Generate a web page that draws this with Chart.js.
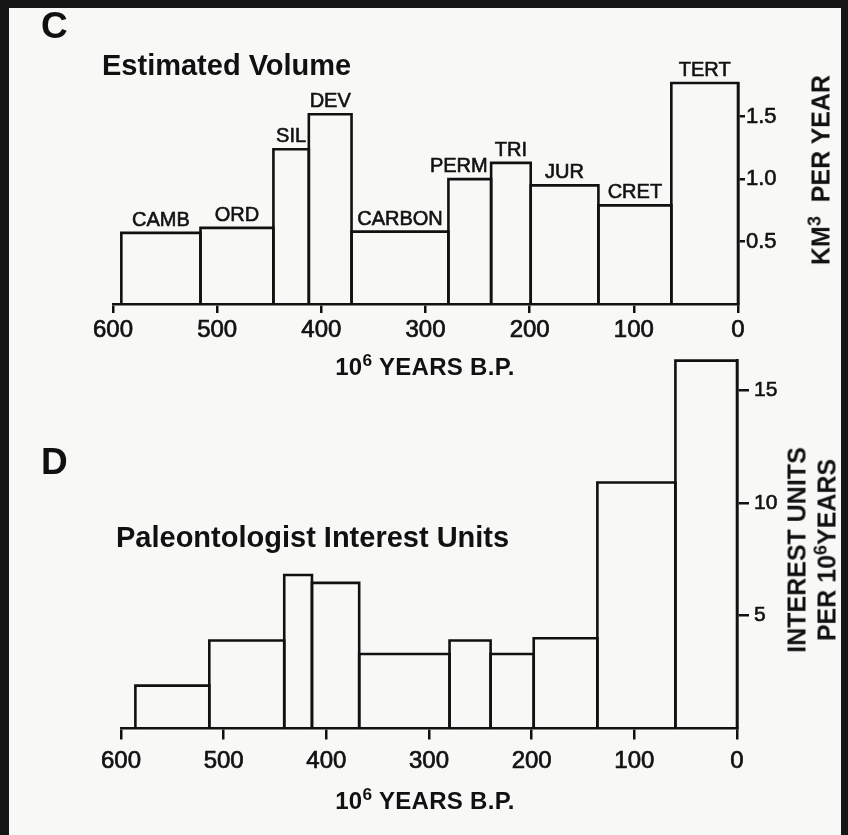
<!DOCTYPE html>
<html lang="en">
<head>
  <meta charset="UTF-8" />
  <title>Estimated Volume and Paleontologist Interest Units</title>
  <script src="https://cdn.jsdelivr.net/npm/chart.js"></script>
  <style>
    html, body { margin: 0; padding: 0; }
    body {
      width: 848px;
      height: 835px;
      position: relative;
      overflow: hidden;
      background: #f8f8f6;
      font-family: "Liberation Sans", Arial, sans-serif;
      color: #111;
    }
    .edge { position: absolute; background: #161616; }
    canvas { position: absolute; left: 0; }
    #chartC { top: 0; }
    #chartD { top: 330px; }
    .letter { position: absolute; font-weight: bold; font-size: 37px; line-height: 1; }
    .title { position: absolute; font-weight: bold; font-size: 29px; line-height: 1; white-space: nowrap; }
    .xtitle {
      position: absolute; font-weight: bold; font-size: 24px; line-height: 1;
      white-space: nowrap; transform: translateX(-50%); letter-spacing: 0.3px;
    }
    .ytitle {
      position: absolute; font-weight: bold; font-size: 25px; line-height: 30px;
      white-space: nowrap; text-align: center;
      transform: translate(-50%, -50%) rotate(-90deg);
    }
    sup { font-size: 0.72em; vertical-align: 0; position: relative; top: -0.5em; }
  </style>
</head>
<body>
  <canvas id="chartC" width="848" height="400"></canvas>
  <canvas id="chartD" width="848" height="505"></canvas>

  <div class="letter" style="left:41px; top:7px;">C</div>
  <div class="title" style="left:102px; top:51px;">Estimated Volume</div>
  <div class="xtitle" style="left:425px; top:355px;">10<sup>6</sup> YEARS B.P.</div>
  <div class="ytitle" style="left:822px; top:170px;">KM<sup>3</sup>&nbsp; PER YEAR</div>

  <div class="letter" style="left:41px; top:443px;">D</div>
  <div class="title" style="left:116px; top:523px;">Paleontologist Interest Units</div>
  <div class="xtitle" style="left:425px; top:789px;">10<sup>6</sup> YEARS B.P.</div>
  <div class="ytitle" style="left:813px; top:550px;">INTEREST UNITS<br>PER 10<sup>6</sup>YEARS</div>

  <div class="edge" style="left:0; top:0; width:848px; height:8px;"></div>
  <div class="edge" style="left:0; top:0; width:9px; height:835px;"></div>
  <div class="edge" style="left:841px; top:0; width:7px; height:835px;"></div>

  <script>
    const INK = '#111';
    const FONT = '"Liberation Sans", Arial, sans-serif';

    // geological periods, oldest first
    const periods = ['CAMB', 'ORD', 'SIL', 'DEV', 'CARBON', 'PERM', 'TRI', 'JUR', 'CRET', 'TERT'];

    // period boundaries in 10^6 years B.P. and the value for each period
    const volumeEdges = [592, 516, 446, 412, 371, 278, 237, 199, 134, 64, 0];
    const volumeRates = [0.57, 0.61, 1.24, 1.52, 0.58, 1.0, 1.13, 0.95, 0.79, 1.77];

    const interestEdges = [586, 514, 441, 414, 368, 280, 240, 198, 136, 60, 0];
    const interestUnits = [1.9, 3.9, 6.8, 6.45, 3.3, 3.9, 3.3, 4.0, 10.9, 16.3];

    const yearTicks = [600, 500, 400, 300, 200, 100, 0];
    const volumeTicks = [0.5, 1.0, 1.5];
    const interestTicks = [5, 10, 15];

    // each period is an open rectangle: up, across, down
    function outlineDatasets(edges, values) {
      return values.map((v, i) => ({
        label: periods[i],
        data: [
          { x: edges[i], y: 0 },
          { x: edges[i], y: v },
          { x: edges[i + 1], y: v },
          { x: edges[i + 1], y: 0 }
        ],
        borderColor: INK,
        borderWidth: 2.6,
        borderJoinStyle: 'miter',
        pointRadius: 0,
        fill: false,
        tension: 0,
        clip: false
      }));
    }

    // period names sitting on top of each bar
    const periodLabels = {
      id: 'periodLabels',
      afterDatasetsDraw(chart, args, opts) {
        if (!opts.show) return;
        const { ctx, scales: { x, y } } = chart;
        ctx.save();
        ctx.font = '20px ' + FONT;
        ctx.fillStyle = INK;
        ctx.strokeStyle = INK;
        ctx.lineWidth = 0.6;
        ctx.textAlign = 'center';
        ctx.textBaseline = 'alphabetic';
        chart.data.datasets.forEach(ds => {
          const mid = (ds.data[1].x + ds.data[2].x) / 2;
          const shift = (opts.shift && opts.shift[ds.label]) || 0;
          const px = x.getPixelForValue(mid) + shift;
          const py = y.getPixelForValue(ds.data[1].y) - 7;
          ctx.strokeText(ds.label, px, py);
          ctx.fillText(ds.label, px, py);
        });
        ctx.restore();
      }
    };

    function makeChart(id, cfg) {
      const yMax = Math.max(...cfg.values);
      return new Chart(document.getElementById(id), {
        type: 'line',
        data: { datasets: outlineDatasets(cfg.edges, cfg.values) },
        plugins: [periodLabels],
        options: {
          responsive: false,
          animation: false,
          devicePixelRatio: 1,
          events: [],
          layout: { padding: { left: cfg.left, top: cfg.top, right: 0, bottom: 0 } },
          plugins: {
            legend: { display: false },
            tooltip: { enabled: false },
            periodLabels: { show: cfg.labels, shift: { PERM: -11 } }
          },
          scales: {
            x: {
              type: 'linear',
              min: 0,
              max: 600,
              reverse: true,
              afterBuildTicks: s => { s.ticks = yearTicks.map(v => ({ value: v })); },
              afterFit: s => { s.height = cfg.height - cfg.bottom; },
              ticks: {
                color: INK,
                font: { family: FONT, size: 24 },
                textStrokeColor: INK,
                textStrokeWidth: 0.7,
                padding: cfg.xPad,
                maxRotation: 0,
                autoSkip: false
              },
              grid: {
                drawOnChartArea: false,
                drawTicks: true,
                tickLength: cfg.xTickLen,
                color: INK,
                lineWidth: 2.5
              },
              border: { display: true, color: INK, width: 2.6 }
            },
            y: {
              type: 'linear',
              position: 'right',
              min: 0,
              max: yMax,
              afterBuildTicks: s => { s.ticks = cfg.yTicks.map(v => ({ value: v })); },
              afterFit: s => { s.width = 848 - cfg.right; },
              ticks: {
                color: INK,
                font: { family: FONT, size: cfg.yFont },
                textStrokeColor: INK,
                textStrokeWidth: 0.6,
                padding: cfg.yPad,
                callback: cfg.yFormat
              },
              grid: {
                drawOnChartArea: false,
                drawTicks: true,
                tickLength: cfg.yTickLen,
                color: INK,
                lineWidth: 2.5
              },
              border: { display: true, color: INK, width: 2.6 }
            }
          }
        }
      });
    }

    makeChart('chartC', {
      edges: volumeEdges,
      values: volumeRates,
      yTicks: volumeTicks,
      labels: true,
      height: 400, left: 113, right: 738, top: 83, bottom: 304,
      xPad: 3, xTickLen: 9,
      yFont: 22, yPad: 1, yTickLen: 7,
      yFormat: v => v.toFixed(1)
    });

    makeChart('chartD', {
      edges: interestEdges,
      values: interestUnits,
      yTicks: interestTicks,
      labels: false,
      height: 505, left: 121, right: 737, top: 30.6, bottom: 398.5,
      xPad: 7, xTickLen: 11,
      yFont: 21, yPad: 5, yTickLen: 12,
      yFormat: v => String(v)
    });
  </script>
</body>
</html>
